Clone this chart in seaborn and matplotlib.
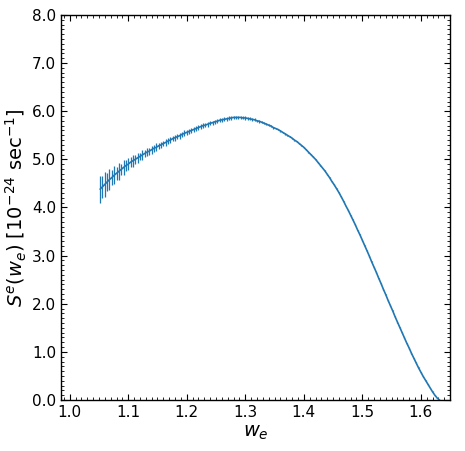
import numpy as np
import pandas as pd
import seaborn as sns
import matplotlib
matplotlib.use('Agg')
import matplotlib.pyplot as plt
from matplotlib.ticker import MultipleLocator, FormatStrFormatter

# spectrum sampled every 0.004 in w_e, from 1.052 to 1.632
w_start, w_step = 1.052, 0.004
s_vals = [
    4.38, 4.43, 4.48, 4.53, 4.58, 4.62, 4.67, 4.71, 4.75, 4.79,
    4.83, 4.87, 4.90, 4.94, 4.97, 5.00, 5.03, 5.06, 5.09, 5.12,
    5.15, 5.17, 5.20, 5.23, 5.25, 5.28, 5.30, 5.33, 5.35, 5.38,
    5.40, 5.43, 5.45, 5.47, 5.49, 5.52, 5.54, 5.56, 5.58, 5.60,
    5.62, 5.64, 5.66, 5.68, 5.70, 5.71, 5.73, 5.75, 5.76, 5.78,
    5.79, 5.81, 5.82, 5.83, 5.84, 5.85, 5.86, 5.87, 5.87, 5.87,
    5.87, 5.86, 5.86, 5.85, 5.84, 5.83, 5.82, 5.80, 5.79, 5.77,
    5.75, 5.73, 5.71, 5.69, 5.66, 5.64, 5.62, 5.59, 5.56, 5.53,
    5.50, 5.47, 5.44, 5.40, 5.37, 5.33, 5.29, 5.25, 5.20, 5.15,
    5.10, 5.05, 5.00, 4.94, 4.88, 4.82, 4.76, 4.69, 4.62, 4.54,
    4.47, 4.39, 4.31, 4.22, 4.13, 4.03, 3.94, 3.84, 3.74, 3.64,
    3.53, 3.43, 3.32, 3.21, 3.10, 2.99, 2.87, 2.76, 2.65, 2.53,
    2.42, 2.30, 2.19, 2.07, 1.96, 1.85, 1.73, 1.62, 1.51, 1.40,
    1.29, 1.18, 1.08, 0.97, 0.87, 0.77, 0.67, 0.58, 0.49, 0.41,
    0.33, 0.25, 0.17, 0.10, 0.04, 0.00,
]
s_err = [
    0.28, 0.23, 0.26, 0.19, 0.22, 0.16, 0.19, 0.14, 0.17, 0.12,
    0.15, 0.11, 0.13, 0.10, 0.12, 0.09, 0.11, 0.08, 0.10, 0.08,
    0.09, 0.07, 0.08, 0.07, 0.08, 0.06, 0.07, 0.06, 0.07, 0.06,
    0.07, 0.05, 0.06, 0.05, 0.06, 0.05, 0.06, 0.05, 0.055, 0.05,
    0.05, 0.05, 0.05, 0.045, 0.05, 0.045, 0.05, 0.045, 0.045, 0.04,
    0.045, 0.04, 0.045, 0.04, 0.04, 0.04, 0.04, 0.04, 0.04, 0.035,
    0.035, 0.03, 0.035, 0.03, 0.03, 0.03, 0.03, 0.025, 0.03, 0.025,
    0.025, 0.02, 0.025, 0.02, 0.02, 0.02, 0.02, 0.015, 0.015, 0.015,
    0.015, 0.015, 0.01, 0.01, 0.01, 0.01, 0.01, 0.01, 0.01, 0.01,
    0.01, 0.01, 0.01, 0.01, 0.01, 0.01, 0.01, 0.01, 0.01, 0.01,
    0.01, 0.01, 0.01, 0.01, 0.01, 0.01, 0.01, 0.01, 0.01, 0.01,
    0.01, 0.01, 0.01, 0.01, 0.01, 0.01, 0.01, 0.01, 0.01, 0.01,
    0.01, 0.01, 0.01, 0.01, 0.01, 0.01, 0.01, 0.01, 0.01, 0.01,
    0.01, 0.01, 0.01, 0.01, 0.01, 0.01, 0.01, 0.01, 0.01, 0.01,
    0.01, 0.01, 0.01, 0.01, 0.0, 0.0,
]
w_vals = np.round(w_start + w_step * np.arange(len(s_vals)), 3)

df = pd.DataFrame({'w': w_vals, 'S': s_vals, 'err': s_err})

sns.set_style("ticks")
plt.rcParams['font.family'] = ['DejaVu Sans']
plt.rcParams['text.color'] = 'black'
plt.rcParams['axes.labelcolor'] = 'black'
plt.rcParams['xtick.color'] = 'black'
plt.rcParams['ytick.color'] = 'black'

fig = plt.figure(figsize=(4.65, 4.51), dpi=100)
ax = fig.add_axes([0.131, 0.113, 0.837, 0.854])

color = '#1f77b4'
ax.errorbar(df['w'], df['S'], yerr=df['err'], fmt='none', ecolor=color,
            elinewidth=0.9)
sns.lineplot(data=df, x='w', y='S', ax=ax, color=color, linewidth=1.2)

ax.set_xlim(0.985, 1.65)
ax.set_ylim(0.0, 8.0)
ax.xaxis.set_major_locator(MultipleLocator(0.1))
ax.xaxis.set_minor_locator(MultipleLocator(0.01))
ax.yaxis.set_major_locator(MultipleLocator(1.0))
ax.yaxis.set_minor_locator(MultipleLocator(0.1))
ax.xaxis.set_major_formatter(FormatStrFormatter('%.1f'))
ax.yaxis.set_major_formatter(FormatStrFormatter('%.1f'))

ax.tick_params(which='both', direction='in', top=True, right=True,
               color='black', labelcolor='black')
ax.tick_params(which='major', length=4.5, width=0.8, labelsize=11)
ax.tick_params(which='minor', length=2.2, width=0.6)
for sp in ax.spines.values():
    sp.set_color('black')
    sp.set_linewidth(1.0)

ax.set_xlabel(r'$w_e$', fontsize=14, labelpad=2)
ax.set_ylabel(r'$S^e(w_e)$ [$10^{-24}$ sec$^{-1}$]', fontsize=14, labelpad=2)

fig.savefig('out.png', dpi=100)
